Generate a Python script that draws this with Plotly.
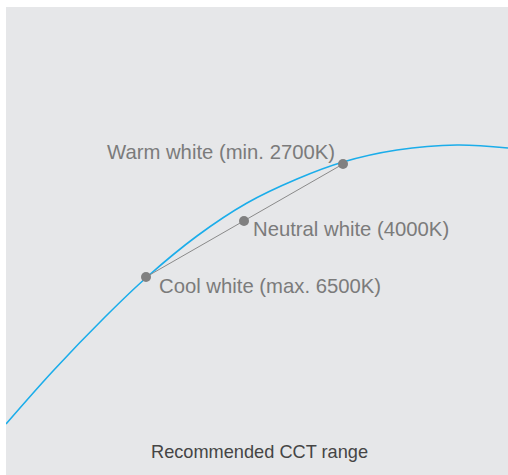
import plotly.graph_objects as go

# Schematic chromaticity-style coordinates (arbitrary units)
locus_x = [6, 53, 105, 147, 197, 247, 297, 343, 397, 457, 508]
locus_y = [424, 371, 317, 277, 236, 203, 179, 162, 150, 145, 148]

point_names = ["Cool white (max. 6500K)", "Neutral white (4000K)", "Warm white (min. 2700K)"]
point_x = [146, 244, 343]
point_y = [277, 221, 164]

title_text = "Recommended CCT range"

label_color = "#7b7b7b"
font_family = "Liberation Sans, Arial, sans-serif"

fig = go.Figure()
fig.add_trace(go.Scatter(
    x=locus_x, y=locus_y, mode="lines",
    line=dict(color="#1badea", width=1.6, shape="spline", smoothing=1.0),
    hoverinfo="skip", showlegend=False,
))
fig.add_trace(go.Scatter(
    x=point_x, y=point_y, mode="lines+markers",
    line=dict(color="#8a8a8a", width=1),
    marker=dict(color="#808080", size=10),
    text=point_names, hoverinfo="text", showlegend=False,
))

# labels
fig.add_annotation(x=point_x[0], y=point_y[0], text=point_names[0], showarrow=False,
                   xanchor="left", yanchor="middle", xshift=11, yshift=-9,
                   font=dict(size=20.3, color=label_color, family=font_family))
fig.add_annotation(x=point_x[1], y=point_y[1], text=point_names[1], showarrow=False,
                   xanchor="left", yanchor="middle", xshift=7, yshift=-8,
                   font=dict(size=20.3, color=label_color, family=font_family))
fig.add_annotation(x=point_x[2], y=point_y[2], text=point_names[2], showarrow=False,
                   xanchor="right", yanchor="middle", xshift=-6, yshift=12,
                   font=dict(size=20.3, color=label_color, family=font_family))

fig.add_annotation(x=0.5, y=0, xref="paper", yref="paper", text=title_text, showarrow=False,
                   xanchor="center", yanchor="bottom", yshift=11, xshift=2,
                   font=dict(size=18.2, color="#454545", family=font_family))

fig.update_xaxes(range=[6, 508], visible=False, fixedrange=True)
fig.update_yaxes(range=[475, 7], visible=False, fixedrange=True)

fig.update_layout(
    width=508, height=475,
    margin=dict(l=6, r=0, t=7, b=0),
    paper_bgcolor="white", plot_bgcolor="#e6e7e9",
    showlegend=False,
)

fig.write_html("out.html", config={"displayModeBar": False},
               post_script="document.body.style.margin='0';document.body.style.overflow='hidden';")
